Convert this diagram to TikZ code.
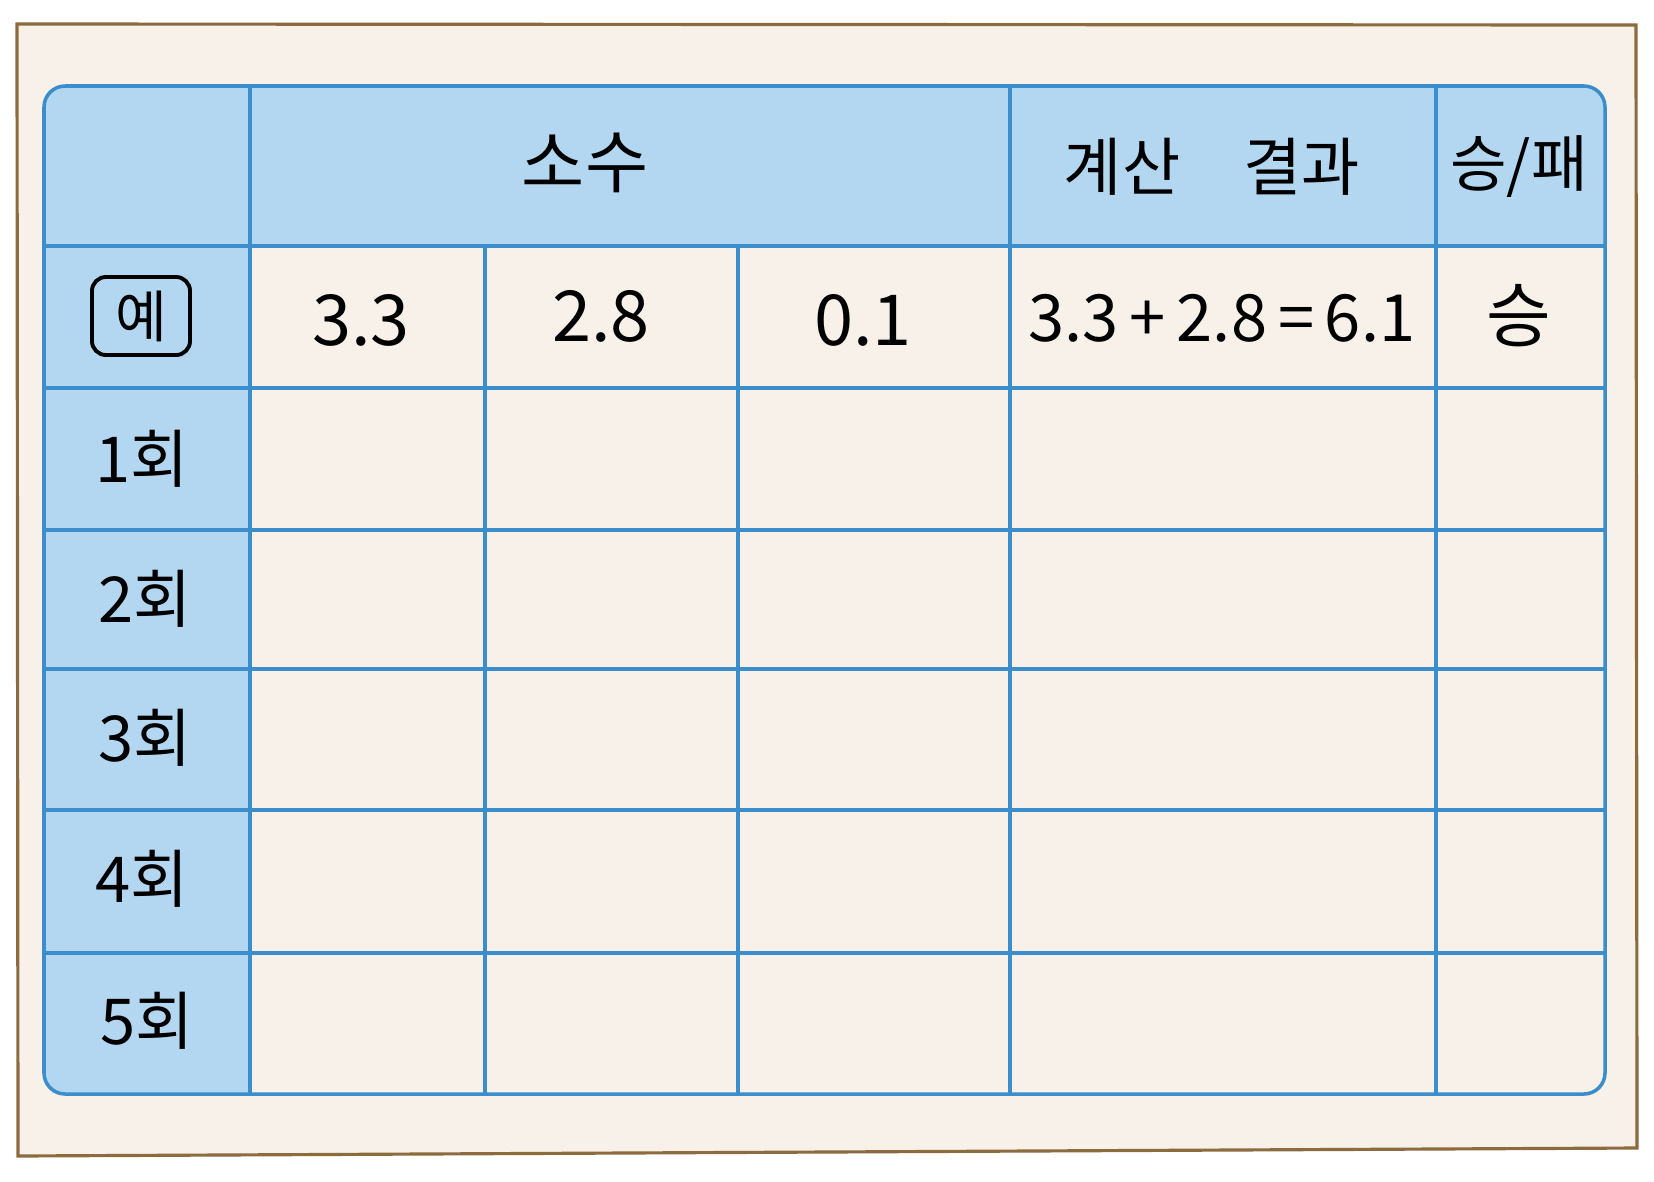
\documentclass[tikz,border=0pt]{standalone}
\usepackage{fontspec}
\setmainfont{Noto Sans CJK KR}
\usetikzlibrary{positioning}

\definecolor{paper}{HTML}{F7F1EA}
\definecolor{paperline}{HTML}{8C6B3F}
\definecolor{headblue}{HTML}{B3D7F0}
\definecolor{gridblue}{HTML}{3B8DCB}

\begin{document}
\begin{tikzpicture}[x=0.01cm, y=-0.01cm,
    grid/.style={draw=gridblue, line width=1pt},
    num/.style={font=\fontsize{20}{20}\selectfont, inner sep=0pt},
    head/.style={font=\fontsize{18}{18}\selectfont, inner sep=0pt},
    round/.style={font=\fontsize{18}{18}\selectfont, inner sep=0pt}]
            \useasboundingbox (0,0) rectangle (1654,1181);
            % paper sheet
            \draw[paperline, fill=paper, line width=0.9pt] (17,24) -- (1636,25) -- (1637,1148) -- (18,1156) -- cycle;

            % blue header row and first column
            \begin{scope}
                \clip[rounded corners=6pt] (44,86) rectangle (1605,1094);
                \fill[headblue] (44,86) rectangle (1605,246);
                \fill[headblue] (44,86) rectangle (250,1094);
            \end{scope}

            % grid
            \foreach \y in {246, 388, 530, 669, 810, 953}
                \draw[grid] (44,\y) -- (1605,\y);
            \foreach \x in {250, 1010, 1436}
                \draw[grid] (\x,86) -- (\x,1094);
            \foreach \x in {485, 738}
                \draw[grid] (\x,246) -- (\x,1094);
            \draw[grid, rounded corners=6pt] (44,86) rectangle (1605,1094);

            % header
            \node[head, font=\fontsize{19.5}{19.5}\selectfont] at (585,163) (hsosu) {소수};
            \node[head] at (1212,167) (hcalc) {계산\quad 결과};
            \node[head, font=\fontsize{17.5}{17.5}\selectfont] at (1519,167) (hwl) {승/패};

            % example row
            \node[draw, line width=1.1pt, rounded corners=4pt, minimum width=27.9pt, minimum height=22.2pt, inner sep=0pt,
                  font=\fontsize{16}{16}\selectfont] at (141,316) (ex) {예};
            \node[num] at (361,320) (exa) {3.3};
            \node[num] at (601,316) (exb) {2.8};
            \node[num] at (863,320) (exc) {0.1};
            \node[num, font=\fontsize{18.5}{18.5}\selectfont] at (1222,318) (exsum) {3.3\,+\,2.8\,=\,6.1};
            \node[num] at (1519,316) (exwl) {승};

            % rounds
            \node[round] at (142,459) (r1) {1회};
            \node[round] at (145,599) (r2) {2회};
            \node[round] at (145,738) (r3) {3회};
            \node[round] at (142,879) (r4) {4회};
            \node[round] at (147,1021) (r5) {5회};
        \end{tikzpicture}
\end{document}
